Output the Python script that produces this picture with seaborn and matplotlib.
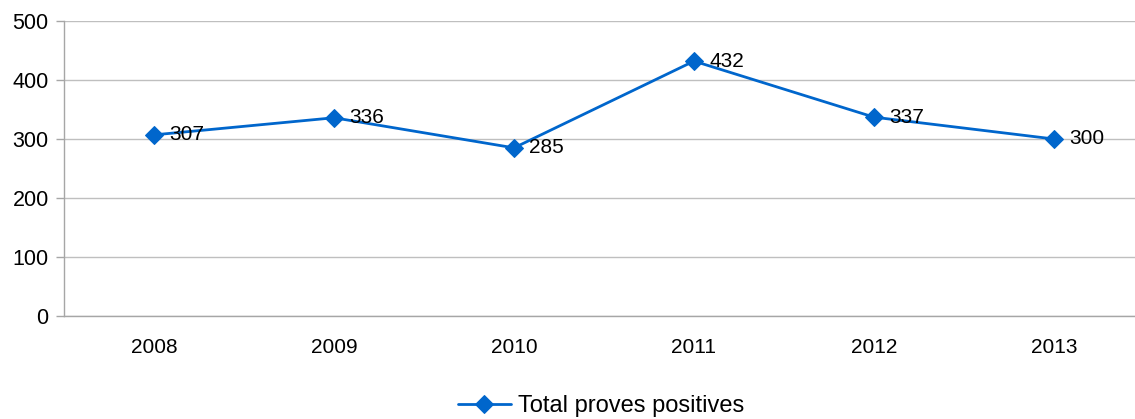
import pandas as pd
import seaborn as sns
import numpy as np
import matplotlib.pyplot as plt
from matplotlib.ticker import FixedLocator

years = ["2008", "2009", "2010", "2011", "2012", "2013"]
positives = [307, 336, 285, 432, 337, 300]
series_name = "Total proves positives"

sns.set_style("white")
plt.rcParams['font.family'] = ['Liberation Sans', 'DejaVu Sans']
plt.rcParams['text.color'] = 'black'
plt.rcParams['xtick.color'] = 'black'
plt.rcParams['ytick.color'] = 'black'

df = pd.DataFrame({"Any": years, "Proves": positives, "Serie": series_name})

blue = "#0066CC"
fs = 15
W, H = 1135, 419
fig = plt.figure(figsize=(W / 100, H / 100), dpi=100)
ax = fig.add_axes([64 / W, (H - 316) / H, 1080 / W, 295 / H])

sns.lineplot(data=df, x="Any", y="Proves", hue="Serie", palette=[blue],
             marker="D", markersize=9, markeredgecolor=blue, linewidth=2,
             ax=ax)

for i, v in enumerate(positives):
    ax.text(i + 0.085, v, str(v), fontsize=fs, va="center", ha="left",
            color="black")

ax.set_xlim(-0.5, 5.5)
ax.set_ylim(0, 500)
ax.set_yticks(range(0, 501, 100))
ax.yaxis.grid(True, color="#BFBFBF", linewidth=1)
ax.set_axisbelow(True)

ax.xaxis.set_minor_locator(FixedLocator(np.arange(-0.5, 6, 1)))
ax.tick_params(axis="x", which="major", length=0, pad=16, labelsize=fs,
               labelcolor="black")
ax.tick_params(axis="x", which="minor", length=6, color="#A6A6A6", width=1)
ax.tick_params(axis="y", which="major", length=6, color="#A6A6A6", width=1,
               labelsize=15.5, pad=5, left=True, labelcolor="black")

for side in ["top", "right"]:
    ax.spines[side].set_visible(False)
for side in ["left", "bottom"]:
    ax.spines[side].set_color("#A6A6A6")
    ax.spines[side].set_linewidth(1)

ax.set_xlabel("")
ax.set_ylabel("")

leg = ax.legend(loc="center", bbox_to_anchor=(601 / W, 1 - 406 / H),
                bbox_transform=fig.transFigure, frameon=False,
                fontsize=17, handlelength=2.25, handletextpad=0.3,
                borderpad=0)
for t in leg.get_texts():
    t.set_color("black")

fig.savefig("out.png", dpi=100)
